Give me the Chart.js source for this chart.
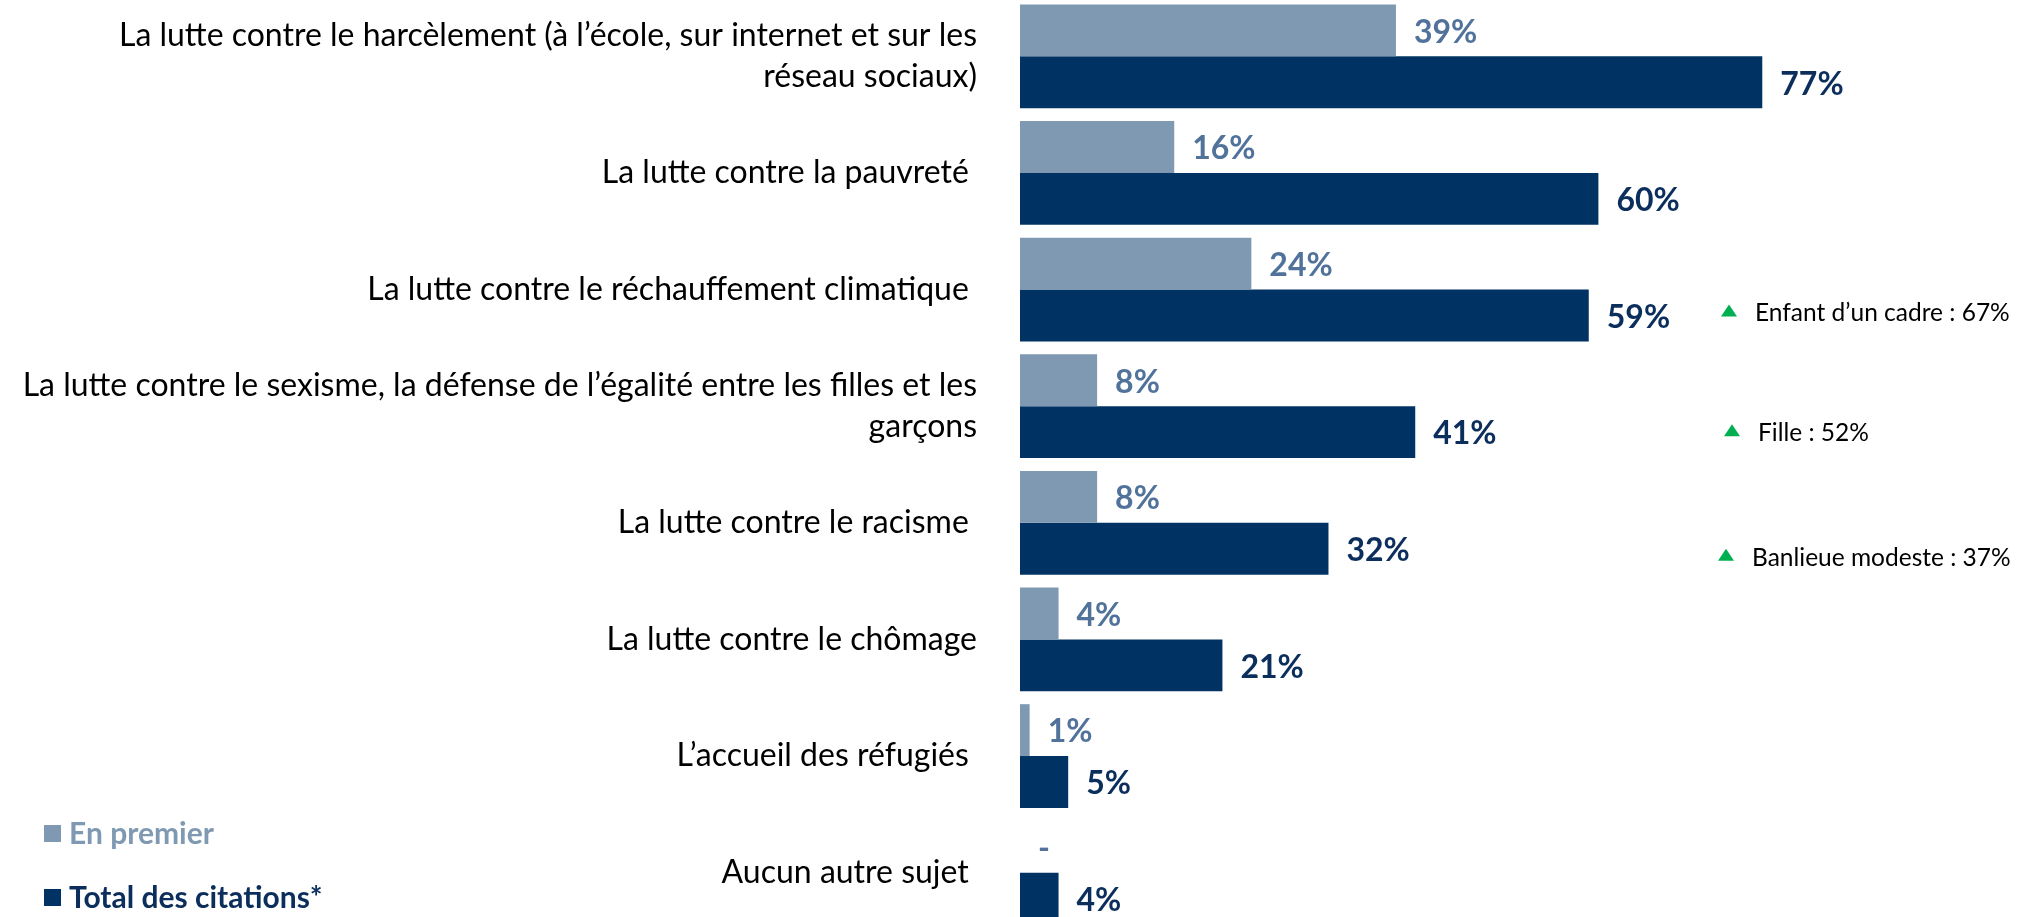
<!DOCTYPE html>
<html>
<head>
<meta charset="utf-8">
<script src="https://cdn.jsdelivr.net/npm/chart.js@4.4.1/dist/chart.umd.min.js"></script>
<style>
    html, body { margin: 0; padding: 0; background: #fff; overflow: hidden; }
    #wrap { position: absolute; left: 0; top: -2px; width: 2018px; height: 933px; }
</style>
</head>
<body>
<div id="wrap"><canvas id="chart"></canvas></div>
<script>
// categories (multi-line labels as arrays)
const categories = [
    ['La lutte contre le harcèlement (à l\u2019école, sur internet et sur les', 'réseau sociaux)'],
    'La lutte contre la pauvreté ',
    'La lutte contre le réchauffement climatique ',
    ['La lutte contre le sexisme, la défense de l\u2019égalité entre les filles et les', 'garçons'],
    'La lutte contre le racisme ',
    'La lutte contre le chômage',
    'L\u2019accueil des réfugiés ',
    'Aucun autre sujet '
];
const enPremier = [39, 16, 24, 8, 8, 4, 1, 0];   // 0 shown as "-"
const totalCitations = [77, 60, 59, 41, 32, 21, 5, 4];

// notes on the right (row index, text)
const noteRows = [2, 3, 4];
const noteTexts = ['Enfant d\u2019un cadre : 67%', 'Fille : 52%', 'Banlieue modeste : 37%'];

const LIGHT = '#8099b3';
const DARK = '#003363';
const LIGHT_TXT = '#51729a';
const DARK_TXT = '#0b2e5c';
const FONT = 'Lato, "Open Sans", sans-serif';

// layout tweaks for the notes (x of triangle, y nudge)
const noteX = [1721, 1724, 1718];
const noteDy = [-3, 0, 8];

const labelsPlugin = {
    id: 'labels',
    afterDatasetsDraw(chart) {
        const ctx = chart.ctx;
        ctx.save();
        ctx.textBaseline = 'middle';
        ctx.textAlign = 'left';
        ctx.font = 'bold 32px ' + FONT;
        chart.data.datasets.forEach((ds, i) => {
            const meta = chart.getDatasetMeta(i);
            ctx.fillStyle = i === 0 ? LIGHT_TXT : DARK_TXT;
            meta.data.forEach((bar, j) => {
                const v = ds.data[j];
                const txt = v ? v + '%' : '-';
                ctx.fillText(txt, bar.x + 18, bar.y + 2);
            });
        });

        // notes with green triangles
        const darkMeta = chart.getDatasetMeta(1);
        ctx.font = '24.5px ' + FONT;
        noteRows.forEach((row, k) => {
            const y = darkMeta.data[row].y + noteDy[k];
            const x = noteX[k];
            ctx.fillStyle = '#00b050';
            ctx.beginPath();
            ctx.moveTo(x, y + 4);
            ctx.lineTo(x + 16, y + 4);
            ctx.lineTo(x + 8, y - 8);
            ctx.closePath();
            ctx.fill();
            ctx.fillStyle = '#000';
            ctx.fillText(noteTexts[k], x + 34, y + 1);
        });

        // legend bottom-left
        const legend = [['En premier', LIGHT, LIGHT, 835], ['Total des citations*', DARK, DARK_TXT, 899]];
        ctx.font = 'bold 30px ' + FONT;
        legend.forEach(([txt, box, col, y]) => {
            ctx.fillStyle = box;
            ctx.fillRect(44, y - 8, 17, 17);
            ctx.fillStyle = col;
            ctx.fillText(txt, 69, y + 1);
        });
        ctx.restore();
    }
};

new Chart(document.getElementById('chart'), {
    type: 'bar',
    data: {
        labels: categories,
        datasets: [
            { label: 'En premier', data: enPremier, backgroundColor: LIGHT },
            { label: 'Total des citations*', data: totalCitations, backgroundColor: DARK }
        ]
    },
    options: {
        indexAxis: 'y',
        responsive: true,
        maintainAspectRatio: false,
        animation: false,
        layout: { padding: { left: 0, top: 0, bottom: 0, right: 34 } },
        datasets: { bar: { categoryPercentage: 0.89, barPercentage: 1.0 } },
        plugins: {
            legend: { display: false },
            tooltip: { enabled: false }
        },
        scales: {
            x: {
                display: false,
                min: 0,
                max: 100,
                afterFit: s => { s.height = 0; }
            },
            y: {
                afterFit: s => {
                    s.width = 1020;
                    s.paddingTop = 0;
                    s.paddingBottom = 0;
                },
                grid: { display: false },
                border: { display: false },
                ticks: {
                    color: '#000',
                    padding: 35,
                    font: { family: FONT, size: 32, lineHeight: 1.28 }
                }
            }
        }
    },
    plugins: [labelsPlugin]
});
</script>
</body>
</html>
